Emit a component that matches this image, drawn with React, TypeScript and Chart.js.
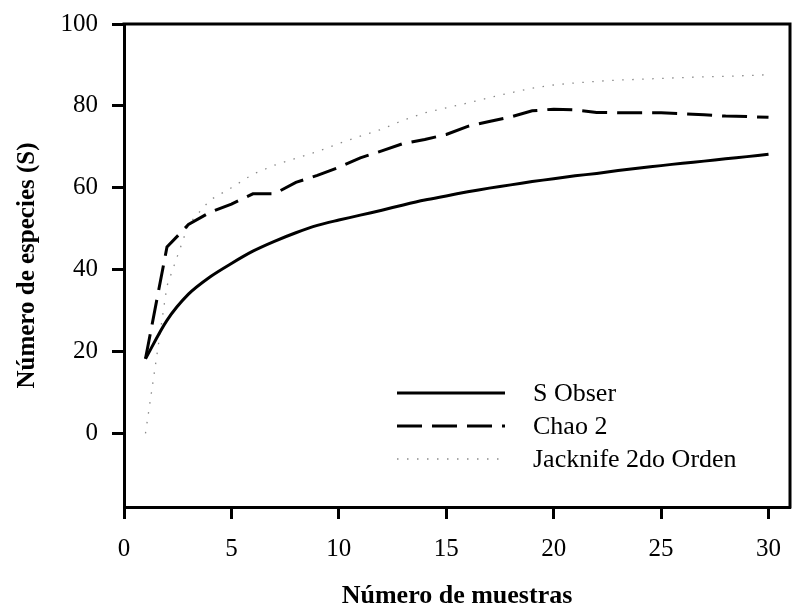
import { useEffect, useRef } from 'react';
import { Chart, registerables } from 'chart.js';

Chart.register(...registerables);

// ---- data ----
const samples = [1, 2, 3, 4, 5, 6, 7, 8, 9, 10, 11, 12, 13, 14, 15, 16, 17, 18, 19, 20, 21, 22, 23, 24, 25, 26, 27, 28, 29, 30];
const sObser = [18.2, 27.6, 34.0, 38.2, 41.5, 44.5, 46.9, 49.0, 50.8, 52.1, 53.3, 54.5, 55.8, 57.0, 58.0, 59.0, 59.9, 60.7, 61.5, 62.2, 62.9, 63.5, 64.2, 64.8, 65.4, 66.0, 66.5, 67.1, 67.6, 68.2];
const chao2 = [18.2, 45.5, 51.0, 54.0, 56.0, 58.5, 58.5, 61.3, 63.0, 65.0, 67.3, 69.0, 70.8, 71.8, 73.0, 75.0, 76.2, 77.3, 78.8, 79.2, 79.0, 78.4, 78.3, 78.3, 78.3, 78.1, 77.8, 77.5, 77.4, 77.2];
const jack2 = [0, 36.0, 51.0, 57.0, 60.0, 63.3, 65.5, 67.2, 68.8, 70.8, 72.6, 74.3, 76.5, 78.3, 79.5, 80.7, 82.0, 83.2, 84.3, 85.1, 85.6, 86.0, 86.3, 86.5, 86.7, 86.9, 87.1, 87.2, 87.4, 87.6];
const seriesLabels = ['S Obser', 'Chao 2', 'Jacknife 2do Orden'];
const xTicks = [0, 5, 10, 15, 20, 25, 30];
const yTicks = [0, 20, 40, 60, 80, 100];
const xTitle = 'Número de muestras';
const yTitle = 'Número de especies (S)';

const FONT = "'Liberation Serif', 'Times New Roman', serif";

export default function App() {
  const ref = useRef<HTMLCanvasElement>(null);

  useEffect(() => {
    document.body.style.margin = '0';
    const canvas = ref.current;
    if (!canvas) return;

    const framePlugin = {
      id: 'frame',
      afterDatasetsDraw(chart: any) {
        const { ctx, chartArea: a } = chart;
        ctx.save();
        ctx.strokeStyle = '#000';
        ctx.lineWidth = 3;
        ctx.lineCap = 'square';
        ctx.beginPath();
        ctx.moveTo(a.left, a.top);
        ctx.lineTo(a.right, a.top);
        ctx.lineTo(a.right, a.bottom);
        ctx.stroke();
        ctx.restore();
      },
    };

    const legendPlugin = {
      id: 'insideLegend',
      afterDraw(chart: any) {
        const { ctx, chartArea: a } = chart;
        const x0 = a.left + 273;
        const x1 = a.left + 381;
        const tx = a.left + 409;
        const rows = [a.bottom - 114, a.bottom - 81, a.bottom - 48];
        chart.data.datasets.forEach((ds: any, i: number) => {
          const y = rows[i];
          ctx.save();
          ctx.strokeStyle = ds.borderColor;
          ctx.lineWidth = ds.borderWidth;
          ctx.setLineDash(ds.borderDash || []);
          ctx.beginPath();
          ctx.moveTo(x0, y);
          ctx.lineTo(x1, y);
          ctx.stroke();
          ctx.setLineDash([]);
          ctx.fillStyle = '#000';
          ctx.font = `26px ${FONT}`;
          ctx.textBaseline = 'middle';
          ctx.textAlign = 'left';
          ctx.fillText(ds.label, tx, y + 1);
          ctx.restore();
        });
      },
    };

    const toPts = (vals: number[]) => samples.map((x, i) => ({ x, y: vals[i] }));

    const chart = new Chart(canvas, {
      type: 'line',
      data: {
        datasets: [
          {
            label: seriesLabels[0],
            data: toPts(sObser),
            borderColor: '#000',
            borderWidth: 3,
            pointRadius: 0,
            tension: 0.3,
            fill: false,
          },
          {
            label: seriesLabels[1],
            data: toPts(chao2),
            borderColor: '#000',
            borderWidth: 3,
            borderDash: [25, 10],
            pointRadius: 0,
            tension: 0,
            fill: false,
          },
          {
            label: seriesLabels[2],
            data: toPts(jack2),
            borderColor: '#8a8a8a',
            borderWidth: 1.3,
            borderDash: [1.5, 8.5],
            pointRadius: 0,
            tension: 0,
            fill: false,
          },
        ],
      },
      options: {
        responsive: false,
        animation: false,
        devicePixelRatio: 1,
        layout: { padding: { top: 24, right: 3, left: 0, bottom: 0 } },
        plugins: {
          legend: { display: false },
          tooltip: { enabled: false },
        },
        scales: {
          x: {
            type: 'linear',
            min: 0,
            max: 31,
            afterBuildTicks: (scale: any) => {
              scale.ticks = xTicks.map((v) => ({ value: v }));
            },
            afterFit: (scale: any) => {
              scale.height = 106;
              scale.paddingLeft = 0;
              scale.paddingRight = 0;
            },
            grid: {
              drawOnChartArea: false,
              drawTicks: true,
              tickLength: 12,
              tickWidth: 3,
              tickColor: '#000',
            },
            border: { display: true, color: '#000', width: 3 },
            ticks: {
              color: '#000',
              font: { family: FONT, size: 25 },
              padding: 15,
              maxRotation: 0,
              autoSkip: false,
            },
            title: {
              display: true,
              text: xTitle,
              color: '#000',
              font: { family: FONT, size: 26, weight: 'bold' },
              padding: { top: 0, bottom: 1 },
            },
          },
          y: {
            type: 'linear',
            min: -18,
            max: 100,
            afterBuildTicks: (scale: any) => {
              scale.ticks = yTicks.map((v) => ({ value: v }));
            },
            afterFit: (scale: any) => {
              scale.width = 124;
              scale.paddingTop = 0;
              scale.paddingBottom = 0;
            },
            grid: {
              drawOnChartArea: false,
              drawTicks: true,
              tickLength: 12,
              tickWidth: 3,
              tickColor: '#000',
            },
            border: { display: true, color: '#000', width: 3 },
            ticks: {
              color: '#000',
              font: { family: FONT, size: 25 },
              padding: 14,
              autoSkip: false,
            },
            title: {
              display: true,
              text: yTitle,
              color: '#000',
              font: { family: FONT, size: 25, weight: 'bold' },
              padding: { top: 13, bottom: 0 },
            },
          },
        },
      },
      plugins: [framePlugin, legendPlugin],
    });

    return () => {
      chart.destroy();
    };
  }, []);

  return (
    <div style={{ width: 793, height: 613, overflow: 'hidden' }}>
      <canvas ref={ref} width={793} height={613} style={{ display: 'block' }} />
    </div>
  );
}
